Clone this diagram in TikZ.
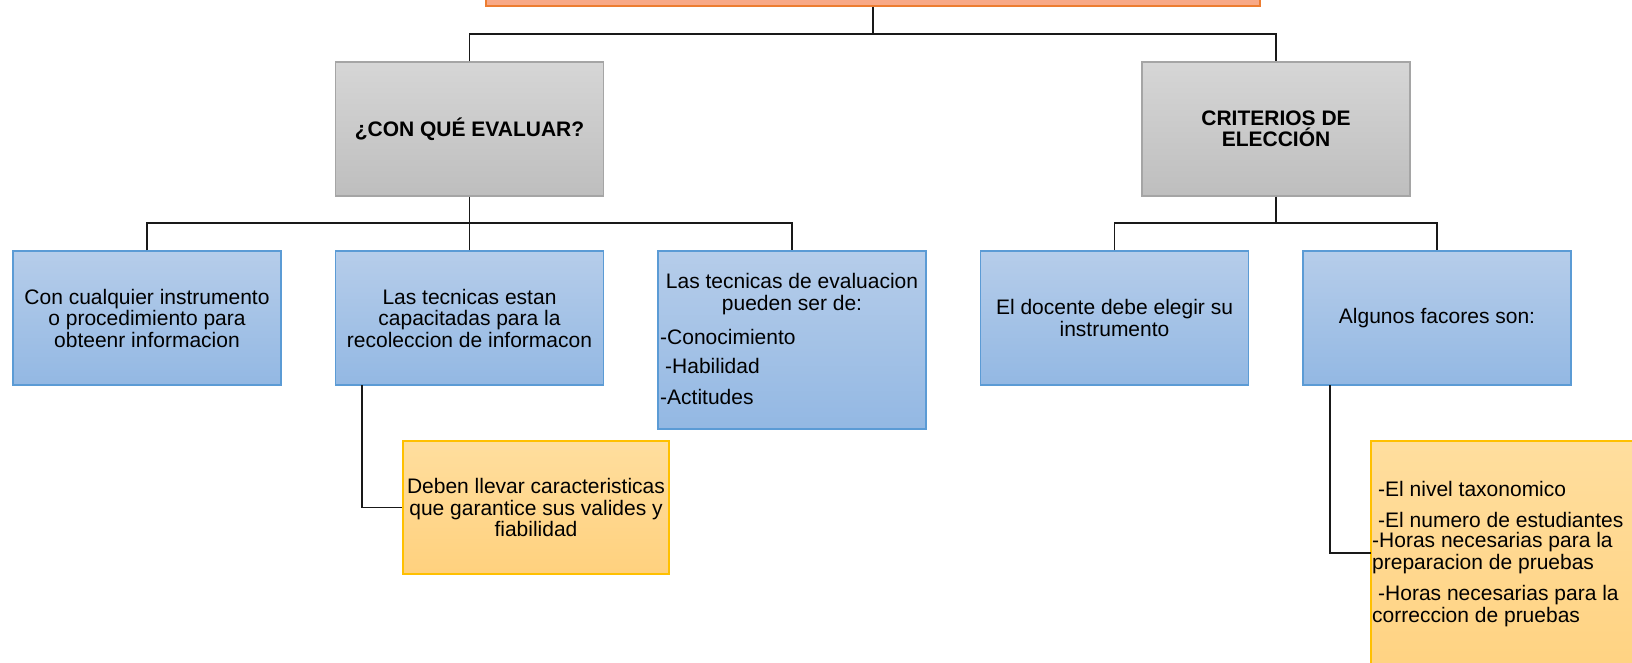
\documentclass[tikz,border=0pt]{standalone}
\usepackage{fontspec}
\setmainfont{Liberation Sans}
\definecolor{bluetop}{RGB}{182,205,234}
\definecolor{bluebot}{RGB}{147,184,227}
\definecolor{blueline}{RGB}{91,155,213}
\definecolor{greytop}{RGB}{214,214,214}
\definecolor{greybot}{RGB}{190,190,190}
\definecolor{greyline}{RGB}{165,165,165}
\definecolor{yeltop}{RGB}{255,222,158}
\definecolor{yelbot}{RGB}{255,209,126}
\definecolor{yelline}{RGB}{255,192,0}
\definecolor{orfill}{RGB}{248,169,135}
\definecolor{orline}{RGB}{237,125,49}
\tikzset{
  box/.style={rectangle, inner sep=0pt, align=center, line width=1.2pt,
    font=\fontsize{21}{21.5}\selectfont},
  bluebox/.style={box, draw=blueline, top color=bluetop, bottom color=bluebot,
    minimum width=268pt, minimum height=134pt},
  greybox/.style={box, draw=greyline, top color=greytop, bottom color=greybot,
    minimum width=268pt, minimum height=134pt, font=\fontsize{21}{21}\selectfont\bfseries},
  yelbox/.style={box, draw=yelline, top color=yeltop, bottom color=yelbot,
    minimum width=266pt},
  txt/.style={inner sep=0pt, align=left, font=\fontsize{21}{21.5}\selectfont},
  conn/.style={draw=black!90, line width=1.3pt}
}
\begin{document}
\begin{tikzpicture}[x=1pt,y=-1pt]
\useasboundingbox (0,0) rectangle (1632,663);
\clip (0,0) rectangle (1632,663);
% top box
\node[box, draw=orline, fill=orfill, minimum width=774pt, minimum height=46pt] (top) at (873,-17) {};
% second level
\node[greybox] (g1) at (469.5,129) {¿CON QUÉ EVALUAR?};
\node[greybox] (g2) at (1276,129) {CRITERIOS DE\\ELECCIÓN};
% third level
\node[bluebox] (b1) at (147,318) {Con cualquier instrumento\\o procedimiento para\\obteenr informacion};
\node[bluebox] (b2) at (469.5,318) {Las tecnicas estan\\capacitadas para la\\recoleccion de informacon};
\node[bluebox, minimum height=178pt] (b3) at (792,340) {};
\node[bluebox] (b4) at (1114.5,318) {El docente debe elegir su\\instrumento};
\node[bluebox] (b5) at (1437,318) {Algunos facores son:};
% b3 texts
\node[txt, align=center] (b3t) at (792,294) {Las tecnicas de evaluacion\\pueden ser de:};
\node[txt, anchor=west] (b3a) at (660,337) {-Conocimiento};
\node[txt, anchor=west] (b3b) at (665,366) {-Habilidad};
\node[txt, anchor=west] (b3c) at (660,397) {-Actitudes};
% yellow boxes
\node[yelbox, minimum height=133pt] (y1) at (536,507.5) {Deben llevar caracteristicas\\que garantice sus valides y\\fiabilidad};
\node[yelbox, minimum width=268pt, minimum height=260pt] (y2) at (1505,571) {};
\node[txt, anchor=west] (y2a) at (1378,489) {-El nivel taxonomico};
\node[txt, anchor=west] (y2b) at (1378,520) {-El numero de estudiantes};
\node[txt, anchor=west] (y2c) at (1372,553) {-Horas necesarias para la\\preparacion de pruebas};
\node[txt, anchor=west] (y2d) at (1372,606) {\hspace*{6pt}-Horas necesarias para la\\correccion de pruebas};
% connectors level 1
\coordinate (h0) at (873,34);
\draw[conn] (top.south) -- (h0);
\draw[conn] (g1.north) |- (h0) -| (g2.north);
% connectors level 2
\coordinate (h1) at (469.5,223);
\coordinate (h2) at (1276,223);
\draw[conn] (g1.south) -- (h1);
\draw[conn] (b1.north) |- (h1) -| (b3.north);
\draw[conn] (b2.north) -- (h1);
\draw[conn] (g2.south) -- (h2);
\draw[conn] (b4.north) |- (h2) -| (b5.north);
% connectors to yellow boxes
\coordinate (s2) at (362,385);
\draw[conn] (s2) |- (y1.west);
\coordinate (s5) at (1330,385);
\coordinate (e5) at (1371,553);
\draw[conn] (s5) |- (e5);
\end{tikzpicture}
\end{document}
